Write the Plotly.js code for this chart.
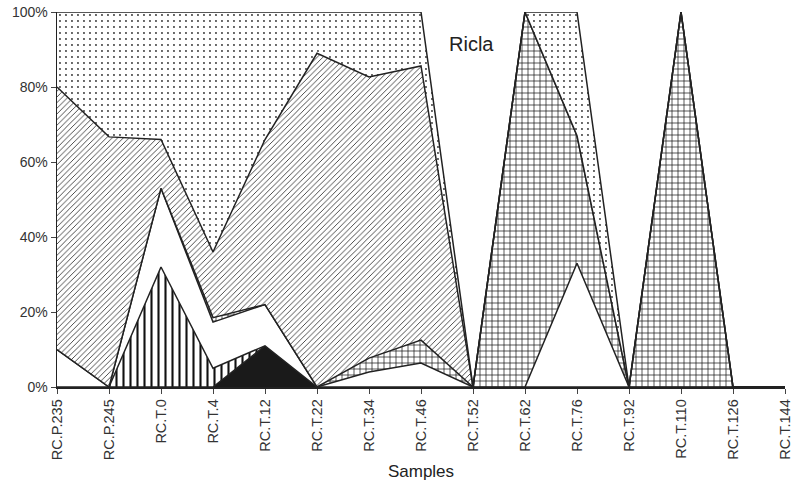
<!DOCTYPE html>
<html>
<head>
<meta charset="utf-8">
<script src="https://cdn.plot.ly/plotly-3.0.1.min.js"></script>
<style>html,body{margin:0;padding:0;background:#fff;}#chart{width:803px;height:487px;}</style>
</head>
<body>
<div id="chart"></div>
<script>
const samples = ["RC.P.235","RC.P.245","RC.T.0","RC.T.4","RC.T.12","RC.T.22","RC.T.34","RC.T.46","RC.T.52","RC.T.62","RC.T.76","RC.T.92","RC.T.110","RC.T.126","RC.T.144"];
const solidBlack = [0,0,0,0,11,0,0,0,0,0,0,0,0,0,0];
const verticalStripes = [0,0,32,5,0,0,0,0,0,0,0,0,0,0,0];
const whiteSeries = [10,0,21,12.3,11,0,4,6.4,0,0,33,0,0,0,0];
const brick = [0,0,0,1.2,0,0,3.7,6.1,0,100,34,0,100,0,0];
const diagonal = [70,66.7,13,17.5,44,89,75,73.1,0,0,0,0,0,0,0];
const dotted = [20,33.3,34,64,34,11,17.3,14.4,0,0,33,0,0,0,0];
const yTickVals = [0,20,40,60,80,100];
const yTickText = ["0%","20%","40%","60%","80%","100%"];

const line = {color:'#222', width:1.5, shape:'linear'};
function tr(y, extra){
  return Object.assign({x: samples, y: y, type:'scatter', mode:'lines', stackgroup:'one', line: line, hoverinfo:'skip', showlegend:false}, extra);
}
const data = [
  tr(solidBlack, {fillcolor:'#1a1a1a'}),
  tr(verticalStripes, {fillcolor:'white', fillpattern:{shape:'|', size:7, solidity:0.3, fgcolor:'#111', bgcolor:'white'}}),
  tr(whiteSeries, {fillcolor:'white'}),
  tr(brick, {fillcolor:'white', fillpattern:{shape:'+', size:6, solidity:0.22, fgcolor:'#111', bgcolor:'white'}}),
  tr(diagonal, {fillcolor:'white', fillpattern:{shape:'/', size:4, solidity:0.2, fgcolor:'#222', bgcolor:'white'}}),
  tr(dotted, {fillcolor:'white', fillpattern:{shape:'.', size:6, solidity:0.08, fgcolor:'#333', bgcolor:'white'}})
];
const layout = {
  width:803, height:487,
  margin:{l:57, r:18, t:12, b:100},
  paper_bgcolor:'white', plot_bgcolor:'white',
  font:{family:'Liberation Sans, Arial, sans-serif', color:'#333', size:14},
  xaxis:{
    type:'category', range:[0,14], showgrid:false, zeroline:false,
    showline:true, linecolor:'#222', linewidth:1.5,
    ticks:'outside', ticklen:5, tickcolor:'#444', tickangle:-90,
    tickfont:{size:14.5, color:'#333'},
    title:{text:'Samples', font:{size:17, color:'#222'}, standoff:6}
  },
  yaxis:{
    range:[0,100], showgrid:false, zeroline:false,
    showline:true, linecolor:'#222', linewidth:1.5,
    ticks:'outside', ticklen:5, tickcolor:'#444',
    tickmode:'array', tickvals:yTickVals, ticktext:yTickText,
    tickfont:{size:14, color:'#333'}
  },
  annotations:[{text:'Ricla', xref:'paper', yref:'paper', x:0.569, y:0.95, showarrow:false, font:{size:20, color:'#222'}}]
};
Plotly.newPlot('chart', data, layout, {staticPlot:true});
</script>
</body>
</html>
